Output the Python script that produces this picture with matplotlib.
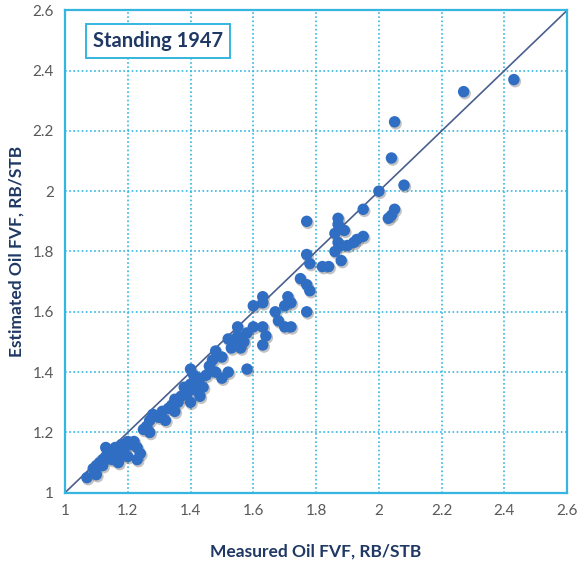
import numpy as np
import matplotlib.pyplot as plt

# measured vs estimated oil FVF (RB/STB)
measured = [2.43, 2.27, 2.05, 2.04, 2.08, 2.00, 2.05, 2.04, 2.03, 1.95,
            1.77, 1.87, 1.87, 1.89, 1.86, 1.87, 1.88, 1.90, 1.92, 1.93,
            1.95, 1.86, 1.88, 1.77, 1.78, 1.82, 1.84, 1.75, 1.77, 1.78,
            1.71, 1.72, 1.70, 1.77, 1.63, 1.63, 1.60, 1.67, 1.68, 1.70,
            1.72, 1.63, 1.64, 1.63, 1.60, 1.58, 1.57, 1.55, 1.55, 1.54,
            1.53, 1.52, 1.56, 1.58, 1.48, 1.50, 1.47, 1.46, 1.48, 1.50,
            1.52, 1.45, 1.43, 1.42, 1.40, 1.41, 1.40, 1.38, 1.39, 1.37,
            1.40, 1.42, 1.44, 1.43, 1.35, 1.34, 1.33, 1.31, 1.30, 1.32,
            1.35, 1.36, 1.28, 1.27, 1.26, 1.25, 1.27, 1.22, 1.20, 1.21,
            1.19, 1.23, 1.24, 1.23, 1.18, 1.16, 1.15, 1.17, 1.14, 1.13,
            1.12, 1.11, 1.15, 1.10, 1.09, 1.10, 1.07, 1.12, 1.17, 1.20,
            1.18, 1.13]
estimated = [2.37, 2.33, 2.23, 2.11, 2.02, 2.00, 1.94, 1.92, 1.91, 1.94,
             1.90, 1.91, 1.89, 1.87, 1.86, 1.83, 1.82, 1.82, 1.83, 1.84,
             1.85, 1.80, 1.77, 1.79, 1.76, 1.75, 1.75, 1.71, 1.69, 1.67,
             1.65, 1.63, 1.62, 1.60, 1.65, 1.63, 1.62, 1.60, 1.57, 1.55,
             1.55, 1.55, 1.52, 1.49, 1.55, 1.53, 1.50, 1.55, 1.52, 1.50,
             1.48, 1.51, 1.48, 1.41, 1.47, 1.45, 1.44, 1.42, 1.40, 1.38,
             1.40, 1.39, 1.38, 1.37, 1.41, 1.39, 1.36, 1.35, 1.33, 1.32,
             1.30, 1.34, 1.35, 1.32, 1.31, 1.29, 1.28, 1.27, 1.25, 1.24,
             1.27, 1.30, 1.26, 1.24, 1.22, 1.21, 1.20, 1.17, 1.17, 1.16,
             1.15, 1.15, 1.13, 1.11, 1.16, 1.15, 1.14, 1.12, 1.13, 1.12,
             1.11, 1.10, 1.11, 1.09, 1.08, 1.06, 1.05, 1.09, 1.10, 1.12,
             1.13, 1.15]
ticks = [1, 1.2, 1.4, 1.6, 1.8, 2, 2.2, 2.4, 2.6]
tick_labels = ['1', '1.2', '1.4', '1.6', '1.8', '2', '2.2', '2.4', '2.6']

grid_col = '#35b6e0'
navy = '#1f3864'

plt.rcParams['font.family'] = ['Lato', 'DejaVu Sans']

fig = plt.figure(figsize=(5.8, 5.69), dpi=100)
ax = fig.add_axes([0.112, 0.134, 0.866, 0.848])

# unit line
ax.plot([1, 2.6], [1, 2.6], color='#4a5f8e', lw=1.2, zorder=2)

# points with a soft shadow
mx = np.array(measured)
ey = np.array(estimated)
ax.scatter(mx + 0.004, ey - 0.006, s=75, color='#555555', alpha=0.35,
           edgecolors='none', zorder=3)
ax.scatter(mx, ey, s=68, color='#2f6ec2', edgecolors='none', zorder=4)

ax.set_xlim(1, 2.6)
ax.set_ylim(1, 2.6)
ax.set_xticks(ticks)
ax.set_xticklabels(tick_labels)
ax.set_yticks(ticks)
ax.set_yticklabels(tick_labels)
ax.tick_params(length=0, labelsize=11, labelcolor='#595959', pad=8)
ax.grid(True, color=grid_col, ls=(0, (1, 1.5)), lw=1.2)
ax.set_axisbelow(True)
for sp in ax.spines.values():
    sp.set_color(grid_col)
    sp.set_linewidth(1.6)

ax.set_xlabel('Measured Oil FVF, RB/STB', fontsize=12.5, fontweight='bold',
              color=navy)
ax.set_ylabel('Estimated Oil FVF, RB/STB', fontsize=12.5, fontweight='bold',
              color=navy)
ax.xaxis.set_label_coords(0.5, -0.105)
ax.yaxis.set_label_coords(-0.08, 0.5)

ax.text(0.055, 0.937, 'Standing 1947', transform=ax.transAxes, fontsize=14.5,
        fontweight='bold', color=navy, va='center', ha='left',
        bbox=dict(boxstyle='square,pad=0.35', fc='white', ec=grid_col, lw=1.4))

fig.savefig('out.png', dpi=100)
